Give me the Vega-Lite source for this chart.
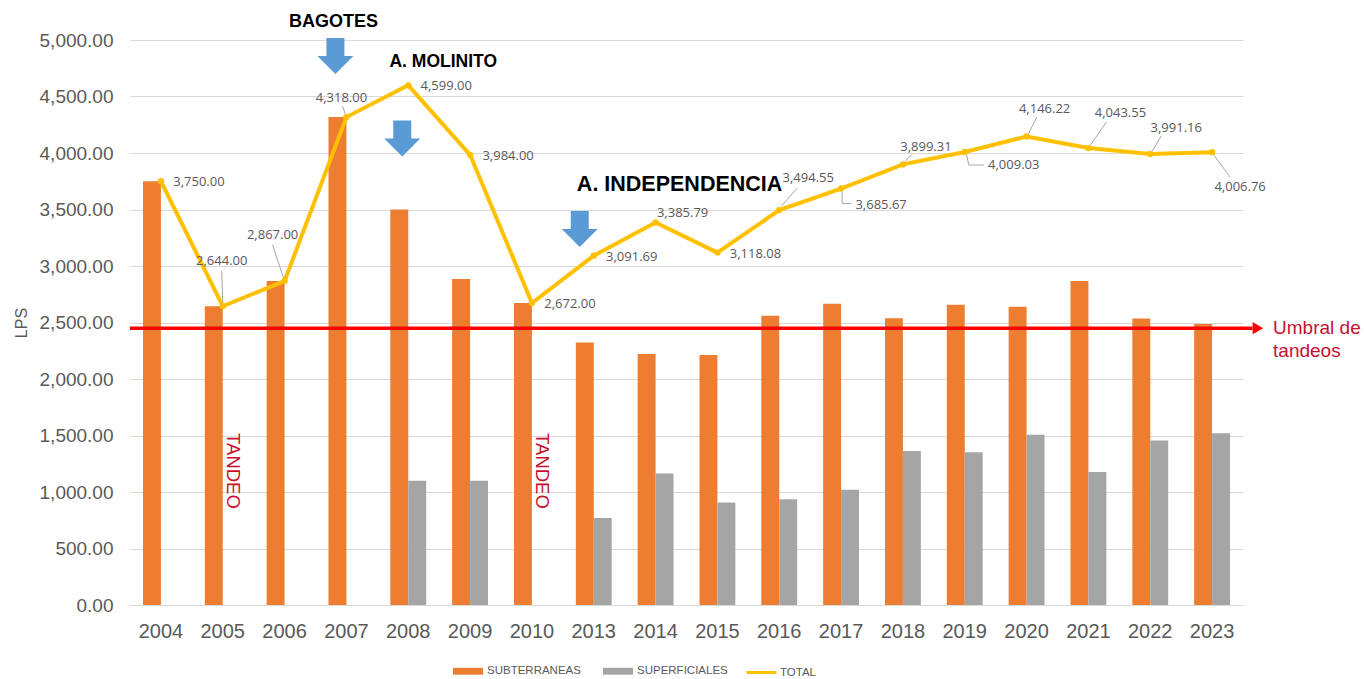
{
  "$schema": "https://vega.github.io/schema/vega-lite/v6.json",
  "width": 1113,
  "height": 565,
  "autosize": "none",
  "padding": {"left": 130, "top": 40, "right": 121, "bottom": 74},
  "background": "white",
  "config": {
    "view": {"stroke": null},
    "font": "Liberation Sans",
    "axis": {"labelColor": "#595959", "titleColor": "#595959", "gridColor": "#D9D9D9", "domainColor": "#D9D9D9"},
    "legend": {"labelColor": "#595959", "labelFont": "Liberation Sans", "labelFontSize": 11.5, "padding": 0, "titlePadding": 0}
  },
  "datasets": {
    "flows": [
      {"year": "2004", "serie": "SUBTERRANEAS", "lps": 3750},
      {"year": "2005", "serie": "SUBTERRANEAS", "lps": 2644},
      {"year": "2006", "serie": "SUBTERRANEAS", "lps": 2867},
      {"year": "2007", "serie": "SUBTERRANEAS", "lps": 4318},
      {"year": "2008", "serie": "SUBTERRANEAS", "lps": 3500},
      {"year": "2009", "serie": "SUBTERRANEAS", "lps": 2885},
      {"year": "2010", "serie": "SUBTERRANEAS", "lps": 2672},
      {"year": "2013", "serie": "SUBTERRANEAS", "lps": 2322},
      {"year": "2014", "serie": "SUBTERRANEAS", "lps": 2222},
      {"year": "2015", "serie": "SUBTERRANEAS", "lps": 2212},
      {"year": "2016", "serie": "SUBTERRANEAS", "lps": 2560},
      {"year": "2017", "serie": "SUBTERRANEAS", "lps": 2667},
      {"year": "2018", "serie": "SUBTERRANEAS", "lps": 2537},
      {"year": "2019", "serie": "SUBTERRANEAS", "lps": 2657},
      {"year": "2020", "serie": "SUBTERRANEAS", "lps": 2640},
      {"year": "2021", "serie": "SUBTERRANEAS", "lps": 2868},
      {"year": "2022", "serie": "SUBTERRANEAS", "lps": 2535},
      {"year": "2023", "serie": "SUBTERRANEAS", "lps": 2486},
      {"year": "2008", "serie": "SUPERFICIALES", "lps": 1099},
      {"year": "2009", "serie": "SUPERFICIALES", "lps": 1099},
      {"year": "2013", "serie": "SUPERFICIALES", "lps": 770},
      {"year": "2014", "serie": "SUPERFICIALES", "lps": 1164},
      {"year": "2015", "serie": "SUPERFICIALES", "lps": 906},
      {"year": "2016", "serie": "SUPERFICIALES", "lps": 935},
      {"year": "2017", "serie": "SUPERFICIALES", "lps": 1019},
      {"year": "2018", "serie": "SUPERFICIALES", "lps": 1362},
      {"year": "2019", "serie": "SUPERFICIALES", "lps": 1352},
      {"year": "2020", "serie": "SUPERFICIALES", "lps": 1506},
      {"year": "2021", "serie": "SUPERFICIALES", "lps": 1176},
      {"year": "2022", "serie": "SUPERFICIALES", "lps": 1456},
      {"year": "2023", "serie": "SUPERFICIALES", "lps": 1521},
      {"year": "2004", "serie": "TOTAL", "lps": 3750},
      {"year": "2005", "serie": "TOTAL", "lps": 2644},
      {"year": "2006", "serie": "TOTAL", "lps": 2867},
      {"year": "2007", "serie": "TOTAL", "lps": 4318},
      {"year": "2008", "serie": "TOTAL", "lps": 4599},
      {"year": "2009", "serie": "TOTAL", "lps": 3984},
      {"year": "2010", "serie": "TOTAL", "lps": 2672},
      {"year": "2013", "serie": "TOTAL", "lps": 3091.69},
      {"year": "2014", "serie": "TOTAL", "lps": 3385.79},
      {"year": "2015", "serie": "TOTAL", "lps": 3118.08},
      {"year": "2016", "serie": "TOTAL", "lps": 3494.55},
      {"year": "2017", "serie": "TOTAL", "lps": 3685.67},
      {"year": "2018", "serie": "TOTAL", "lps": 3899.31},
      {"year": "2019", "serie": "TOTAL", "lps": 4009.03},
      {"year": "2020", "serie": "TOTAL", "lps": 4146.22},
      {"year": "2021", "serie": "TOTAL", "lps": 4043.55},
      {"year": "2022", "serie": "TOTAL", "lps": 3991.16},
      {"year": "2023", "serie": "TOTAL", "lps": 4006.76}
    ]
  },
  "data": {"name": "flows"},
  "resolve": {"scale": {"x": "independent"}, "axis": {"x": "independent"}},
  "layer": [
    {
      "encoding": {
        "x": {"field": "year", "type": "ordinal", "scale": {"paddingInner": 0.42, "paddingOuter": 0.21},
          "axis": {"title": null, "labelAngle": 0, "labelFontSize": 20, "labelPadding": 16, "ticks": false, "domain": true, "domainColor": "#D9D9D9", "grid": false}},
        "y": {"field": "lps", "type": "quantitative", "stack": null, "scale": {"domain": [0, 5000], "nice": false},
          "axis": {"title": "LPS", "values": [0, 500, 1000, 1500, 2000, 2500, 3000, 3500, 4000, 4500, 5000], "format": ",.2f", "labelFontSize": 19, "labelPadding": 17, "domain": false, "ticks": false, "grid": true, "titleFontSize": 16, "titleFontWeight": "normal", "titlePadding": 10}}
      },
      "layer": [
        {
          "transform": [{"filter": "datum.serie !== 'TOTAL'"}],
          "mark": {"type": "bar"},
          "encoding": {
            "xOffset": {"field": "serie", "type": "nominal", "scale": {"domain": ["SUBTERRANEAS", "SUPERFICIALES"], "paddingInner": 0, "paddingOuter": 0}},
            "fill": {"field": "serie", "type": "nominal", "scale": {"domain": ["SUBTERRANEAS", "SUPERFICIALES"], "range": ["#ED7D31", "#A5A5A5"]},
              "legend": {"title": null, "orient": "none", "legendX": 323, "legendY": 616, "direction": "horizontal", "symbolType": "M-1,-0.23H1V0.23H-1Z", "symbolSize": 900, "symbolStrokeWidth": 0, "columnPadding": 22, "labelOffset": 4}}
          }
        },
        {
          "transform": [{"filter": "datum.serie === 'TOTAL'"}],
          "mark": {"type": "line", "strokeWidth": 4},
          "encoding": {
            "stroke": {"datum": "TOTAL", "type": "nominal", "scale": {"range": ["#FFC000"]},
              "legend": {"title": null, "orient": "none", "legendX": 615, "legendY": 616, "direction": "horizontal", "symbolType": "stroke", "symbolSize": 900, "symbolStrokeWidth": 3, "labelOffset": 2}}
          }
        },
        {
          "transform": [{"filter": "datum.serie === 'TOTAL'"}],
          "mark": {"type": "circle", "size": 40, "color": "#FFC000", "opacity": 1}
        },
        {
          "transform": [{"filter": "datum.serie === 'TOTAL' && indexof(['2004','2008','2009','2010','2013','2015'], datum.year) >= 0"}],
          "mark": {"type": "text", "font": "Open Sans", "fontSize": 13, "color": "#595959", "align": "center", "baseline": "middle", "dx": 38, "dy": 1},
          "encoding": {"text": {"field": "lps", "type": "quantitative", "format": ",.2f"}}
        },
        {
          "transform": [{"filter": "datum.serie === 'TOTAL' && datum.year === '2014'"}],
          "mark": {"type": "text", "font": "Open Sans", "fontSize": 13, "color": "#595959", "align": "center", "baseline": "middle", "dx": 27, "dy": -9},
          "encoding": {"text": {"field": "lps", "type": "quantitative", "format": ",.2f"}}
        },
        {
          "transform": [{"filter": "datum.serie === 'TOTAL' && datum.year === '2005'"}],
          "layer": [
            {"mark": {"type": "text", "font": "Open Sans", "fontSize": 13, "color": "#595959", "align": "center", "baseline": "middle", "dx": -1, "dy": -45},
             "encoding": {"text": {"field": "lps", "type": "quantitative", "format": ",.2f"}}},
            {"mark": {"type": "rule", "color": "#A6A6A6", "strokeWidth": 1, "xOffset": 0, "yOffset": -3, "x2Offset": -1, "y2Offset": -35},
             "encoding": {"x2": {"field": "year", "bandPosition": 0.5}, "y2": {"field": "lps"}}}
          ]
        },
        {
          "transform": [{"filter": "datum.serie === 'TOTAL' && datum.year === '2006'"}],
          "layer": [
            {"mark": {"type": "text", "font": "Open Sans", "fontSize": 13, "color": "#595959", "align": "center", "baseline": "middle", "dx": -12, "dy": -46},
             "encoding": {"text": {"field": "lps", "type": "quantitative", "format": ",.2f"}}},
            {"mark": {"type": "rule", "color": "#A6A6A6", "strokeWidth": 1, "xOffset": -1, "yOffset": -3, "x2Offset": -12, "y2Offset": -36},
             "encoding": {"x2": {"field": "year", "bandPosition": 0.5}, "y2": {"field": "lps"}}}
          ]
        },
        {
          "transform": [{"filter": "datum.serie === 'TOTAL' && datum.year === '2007'"}],
          "layer": [
            {"mark": {"type": "text", "font": "Open Sans", "fontSize": 13, "color": "#595959", "align": "center", "baseline": "middle", "dx": -5, "dy": -19},
             "encoding": {"text": {"field": "lps", "type": "quantitative", "format": ",.2f"}}},
            {"mark": {"type": "rule", "color": "#A6A6A6", "strokeWidth": 1, "xOffset": -1, "yOffset": -3, "x2Offset": -4, "y2Offset": -11},
             "encoding": {"x2": {"field": "year", "bandPosition": 0.5}, "y2": {"field": "lps"}}}
          ]
        },
        {
          "transform": [{"filter": "datum.serie === 'TOTAL' && datum.year === '2016'"}],
          "layer": [
            {"mark": {"type": "text", "font": "Open Sans", "fontSize": 13, "color": "#595959", "align": "center", "baseline": "middle", "dx": 29, "dy": -32},
             "encoding": {"text": {"field": "lps", "type": "quantitative", "format": ",.2f"}}},
            {"mark": {"type": "rule", "color": "#A6A6A6", "strokeWidth": 1, "xOffset": 2, "yOffset": -4, "x2Offset": 18, "y2Offset": -22},
             "encoding": {"x2": {"field": "year", "bandPosition": 0.5}, "y2": {"field": "lps"}}}
          ]
        },
        {
          "transform": [{"filter": "datum.serie === 'TOTAL' && datum.year === '2017'"}],
          "layer": [
            {"mark": {"type": "text", "font": "Open Sans", "fontSize": 13, "color": "#595959", "align": "center", "baseline": "middle", "dx": 40, "dy": 16},
             "encoding": {"text": {"field": "lps", "type": "quantitative", "format": ",.2f"}}},
            {"mark": {"type": "rule", "color": "#A6A6A6", "strokeWidth": 1, "xOffset": 1, "yOffset": 3, "x2Offset": 1, "y2Offset": 15},
             "encoding": {"x2": {"field": "year", "bandPosition": 0.5}, "y2": {"field": "lps"}}},
            {"mark": {"type": "rule", "color": "#A6A6A6", "strokeWidth": 1, "xOffset": 1, "yOffset": 15, "x2Offset": 10, "y2Offset": 15},
             "encoding": {"x2": {"field": "year", "bandPosition": 0.5}, "y2": {"field": "lps"}}}
          ]
        },
        {
          "transform": [{"filter": "datum.serie === 'TOTAL' && datum.year === '2018'"}],
          "layer": [
            {"mark": {"type": "text", "font": "Open Sans", "fontSize": 13, "color": "#595959", "align": "center", "baseline": "middle", "dx": 23, "dy": -17},
             "encoding": {"text": {"field": "lps", "type": "quantitative", "format": ",.2f"}}},
            {"mark": {"type": "rule", "color": "#A6A6A6", "strokeWidth": 1, "xOffset": 2, "yOffset": -3, "x2Offset": 9, "y2Offset": -10},
             "encoding": {"x2": {"field": "year", "bandPosition": 0.5}, "y2": {"field": "lps"}}}
          ]
        },
        {
          "transform": [{"filter": "datum.serie === 'TOTAL' && datum.year === '2019'"}],
          "layer": [
            {"mark": {"type": "text", "font": "Open Sans", "fontSize": 13, "color": "#595959", "align": "center", "baseline": "middle", "dx": 49, "dy": 13},
             "encoding": {"text": {"field": "lps", "type": "quantitative", "format": ",.2f"}}},
            {"mark": {"type": "rule", "color": "#A6A6A6", "strokeWidth": 1, "xOffset": 2, "yOffset": 3, "x2Offset": 4, "y2Offset": 13},
             "encoding": {"x2": {"field": "year", "bandPosition": 0.5}, "y2": {"field": "lps"}}},
            {"mark": {"type": "rule", "color": "#A6A6A6", "strokeWidth": 1, "xOffset": 4, "yOffset": 13, "x2Offset": 19, "y2Offset": 13},
             "encoding": {"x2": {"field": "year", "bandPosition": 0.5}, "y2": {"field": "lps"}}}
          ]
        },
        {
          "transform": [{"filter": "datum.serie === 'TOTAL' && datum.year === '2020'"}],
          "layer": [
            {"mark": {"type": "text", "font": "Open Sans", "fontSize": 13, "color": "#595959", "align": "center", "baseline": "middle", "dx": 18, "dy": -27},
             "encoding": {"text": {"field": "lps", "type": "quantitative", "format": ",.2f"}}},
            {"mark": {"type": "rule", "color": "#A6A6A6", "strokeWidth": 1, "xOffset": 2, "yOffset": -3, "x2Offset": 10, "y2Offset": -19},
             "encoding": {"x2": {"field": "year", "bandPosition": 0.5}, "y2": {"field": "lps"}}}
          ]
        },
        {
          "transform": [{"filter": "datum.serie === 'TOTAL' && datum.year === '2021'"}],
          "layer": [
            {"mark": {"type": "text", "font": "Open Sans", "fontSize": 13, "color": "#595959", "align": "center", "baseline": "middle", "dx": 32, "dy": -35},
             "encoding": {"text": {"field": "lps", "type": "quantitative", "format": ",.2f"}}},
            {"mark": {"type": "rule", "color": "#A6A6A6", "strokeWidth": 1, "xOffset": 2, "yOffset": -3, "x2Offset": 18, "y2Offset": -26},
             "encoding": {"x2": {"field": "year", "bandPosition": 0.5}, "y2": {"field": "lps"}}}
          ]
        },
        {
          "transform": [{"filter": "datum.serie === 'TOTAL' && datum.year === '2022'"}],
          "layer": [
            {"mark": {"type": "text", "font": "Open Sans", "fontSize": 13, "color": "#595959", "align": "center", "baseline": "middle", "dx": 26, "dy": -26},
             "encoding": {"text": {"field": "lps", "type": "quantitative", "format": ",.2f"}}},
            {"mark": {"type": "rule", "color": "#A6A6A6", "strokeWidth": 1, "xOffset": 2, "yOffset": -3, "x2Offset": 11, "y2Offset": -18},
             "encoding": {"x2": {"field": "year", "bandPosition": 0.5}, "y2": {"field": "lps"}}}
          ]
        },
        {
          "transform": [{"filter": "datum.serie === 'TOTAL' && datum.year === '2023'"}],
          "layer": [
            {"mark": {"type": "text", "font": "Open Sans", "fontSize": 13, "color": "#595959", "align": "center", "baseline": "middle", "dx": 28, "dy": 35},
             "encoding": {"text": {"field": "lps", "type": "quantitative", "format": ",.2f"}}},
            {"mark": {"type": "rule", "color": "#A6A6A6", "strokeWidth": 1, "xOffset": 2, "yOffset": 3, "x2Offset": 18, "y2Offset": 25},
             "encoding": {"x2": {"field": "year", "bandPosition": 0.5}, "y2": {"field": "lps"}}}
          ]
        },
        {
          "data": {"values": [{"year": "2007", "lps": 4858}]},
          "mark": {"type": "point", "shape": "M-1.111,-1L-0.111,-1L-0.111,0L0.389,0L-0.611,1L-1.611,0L-1.111,0Z", "size": 1296, "filled": true, "color": "#5B9BD5", "opacity": 1, "strokeWidth": 0}
        },
        {
          "data": {"values": [{"year": "2008", "lps": 4128}]},
          "mark": {"type": "point", "shape": "M-0.833,-1L0.167,-1L0.167,0L0.667,0L-0.333,1L-1.333,0L-0.833,0Z", "size": 1296, "filled": true, "color": "#5B9BD5", "opacity": 1, "strokeWidth": 0}
        },
        {
          "data": {"values": [{"year": "2013", "lps": 3327}]},
          "mark": {"type": "point", "shape": "M-1.278,-1L-0.278,-1L-0.278,0L0.222,0L-0.778,1L-1.778,0L-1.278,0Z", "size": 1296, "filled": true, "color": "#5B9BD5", "opacity": 1, "strokeWidth": 0}
        },
        {
          "data": {"values": [{"year": "2007", "lps": 5159, "note": "BAGOTES"}]},
          "mark": {"type": "text", "font": "Liberation Sans", "fontWeight": "bold", "fontSize": 18, "color": "#000000", "align": "center", "baseline": "middle", "dx": -13},
          "encoding": {"text": {"field": "note"}}
        },
        {
          "data": {"values": [{"year": "2008", "lps": 4805, "note": "A. MOLINITO"}]},
          "mark": {"type": "text", "font": "Liberation Sans", "fontWeight": "bold", "fontSize": 17.5, "color": "#000000", "align": "center", "baseline": "middle", "dx": 35},
          "encoding": {"text": {"field": "note"}}
        },
        {
          "data": {"values": [{"year": "2014", "lps": 3717, "note": "A. INDEPENDENCIA"}]},
          "mark": {"type": "text", "font": "Liberation Sans", "fontWeight": "bold", "fontSize": 21.5, "color": "#000000", "align": "center", "baseline": "middle", "dx": 24},
          "encoding": {"text": {"field": "note"}}
        },
        {
          "data": {"values": [{"year": "2005", "lps": 1186, "note": "TANDEO"}, {"year": "2010", "lps": 1186, "note": "TANDEO"}]},
          "mark": {"type": "text", "font": "Liberation Sans", "fontSize": 18.5, "color": "#C8102E", "align": "center", "baseline": "middle", "angle": 90, "dy": -10},
          "encoding": {"text": {"field": "note"}}
        }
      ]
    },
    {
      "data": {"values": [{}]},
      "encoding": {
        "y": {"datum": 2450, "type": "quantitative", "scale": {"domain": [0, 5000], "nice": false}}
      },
      "layer": [
        {
          "mark": {"type": "rule", "color": "#FF0000", "strokeWidth": 3.5},
          "encoding": {"x": {"datum": 0, "type": "quantitative", "scale": {"domain": [0, 1], "nice": false, "zero": false}, "axis": null}, "x2": {"datum": 1.0085}}
        },
        {
          "mark": {"type": "point", "shape": "triangle-right", "size": 150, "filled": true, "color": "#FF0000", "opacity": 1, "strokeWidth": 0},
          "encoding": {"x": {"datum": 1.0134, "type": "quantitative"}}
        },
        {
          "mark": {"type": "text", "font": "Liberation Sans", "fontSize": 19, "color": "#C8102E", "align": "left", "baseline": "middle", "lineBreak": "\n", "lineHeight": 23},
          "encoding": {"x": {"datum": 1.027, "type": "quantitative"}, "text": {"value": "Umbral de\ntandeos"}}
        }
      ]
    }
  ]
}
